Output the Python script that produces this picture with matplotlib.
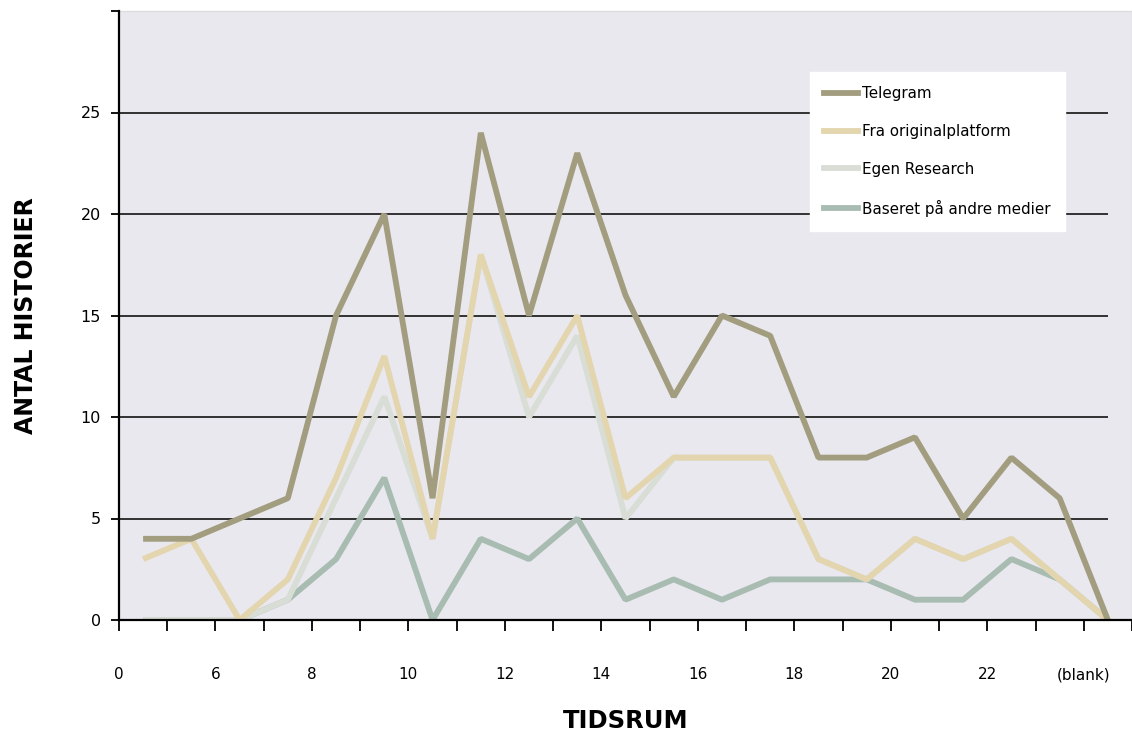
import numpy as np
import matplotlib
matplotlib.use('Agg')
import matplotlib.pyplot as plt
from matplotlib.lines import Line2D

# data (21 time slots)
telegram = [4, 4, 5, 6, 15, 20, 6, 24, 15, 23, 16, 11, 15, 14, 8, 8, 9, 5, 8, 6, 0]
fra_original = [3, 4, 0, 2, 7, 13, 4, 18, 11, 15, 6, 8, 8, 8, 3, 2, 4, 3, 4, 2, 0]
egen_research = [0, 0, 0, 1, 6, 11, 4, 18, 10, 14, 5, 8, 8, 8, 3, 2, 4, 3, 4, 2, 0]
andre_medier = [0, 0, 0, 1, 3, 7, 0, 4, 3, 5, 1, 2, 1, 2, 2, 2, 1, 1, 3, 2, 0]

x_labels = ['0', '6', '8', '10', '12', '14', '16', '18', '20', '22', '(blank)']
y_ticks = [0, 5, 10, 15, 20, 25, 30]

names = ['Telegram', 'Fra originalplatform', 'Egen Research', 'Baseret på andre medier']
colors = ['#A39D80', '#E3D5AE', '#D8DDD5', '#A8BCB2']

plt.rcParams['font.family'] = ['DejaVu Sans']

fig = plt.figure(figsize=(11.32, 7.36), dpi=100)
ax = fig.add_axes([119 / 1132, 116 / 736, 1 - 119 / 1132, 609 / 736])
ax.set_facecolor('#E9E8EE')

n = len(telegram)
x = np.arange(n) + 0.5

# gridlines stop at the last category centre, like the original
ax.hlines(y_ticks[1:-1], 0, x[-1], colors='black', linewidth=1.1, zorder=1)

series = [telegram, fra_original, egen_research, andre_medier]
# draw order: bottom series first so Telegram ends on top
for i in [3, 2, 1, 0]:
    ax.plot(x, series[i], color=colors[i], linewidth=4.2,
            solid_joinstyle='bevel', solid_capstyle='butt', zorder=2 + (3 - i))

ax.set_xlim(0, n)
ax.set_ylim(0, 30)

ax.set_xticks(np.arange(0, n + 1))
ax.set_xticklabels([x_labels[k // 2] if k % 2 == 0 and k // 2 < len(x_labels) else ''
                    for k in range(n + 1)])
ax.set_yticks(y_ticks)
ax.set_yticklabels([str(v) if v < 30 else '' for v in y_ticks])

ax.tick_params(axis='x', direction='out', length=8, width=1.3, pad=26,
               labelsize=11, colors='black')
ax.tick_params(axis='y', direction='out', length=6, width=1.3, pad=7,
               labelsize=11.5, colors='black')

for side in ['top', 'right']:
    ax.spines[side].set_color('#DDDDDD')
    ax.spines[side].set_linewidth(1)
ax.spines['left'].set_linewidth(1.6)
ax.spines['bottom'].set_linewidth(1.6)
ax.spines['left'].set_zorder(10)
ax.spines['bottom'].set_zorder(10)

ax.set_xlabel('TIDSRUM', fontsize=17.5, fontweight='bold', labelpad=19)
ax.set_ylabel('ANTAL HISTORIER', fontsize=17, fontweight='bold', labelpad=31)

handles = [Line2D([0], [0], color=colors[i], linewidth=4.2) for i in range(4)]
leg = ax.legend(handles, names, loc='upper left',
                bbox_to_anchor=(810 / 1132, 1 - 72 / 736),
                bbox_transform=fig.transFigure,
                fontsize=10.9, frameon=True, fancybox=False,
                handlelength=2.2, handletextpad=0.3, labelspacing=1.5,
                borderpad=0.95, borderaxespad=0)
leg.get_frame().set_facecolor('white')
leg.get_frame().set_edgecolor('white')
leg.get_frame().set_alpha(1)
leg.set_zorder(20)

fig.savefig('out.png', dpi=100)
